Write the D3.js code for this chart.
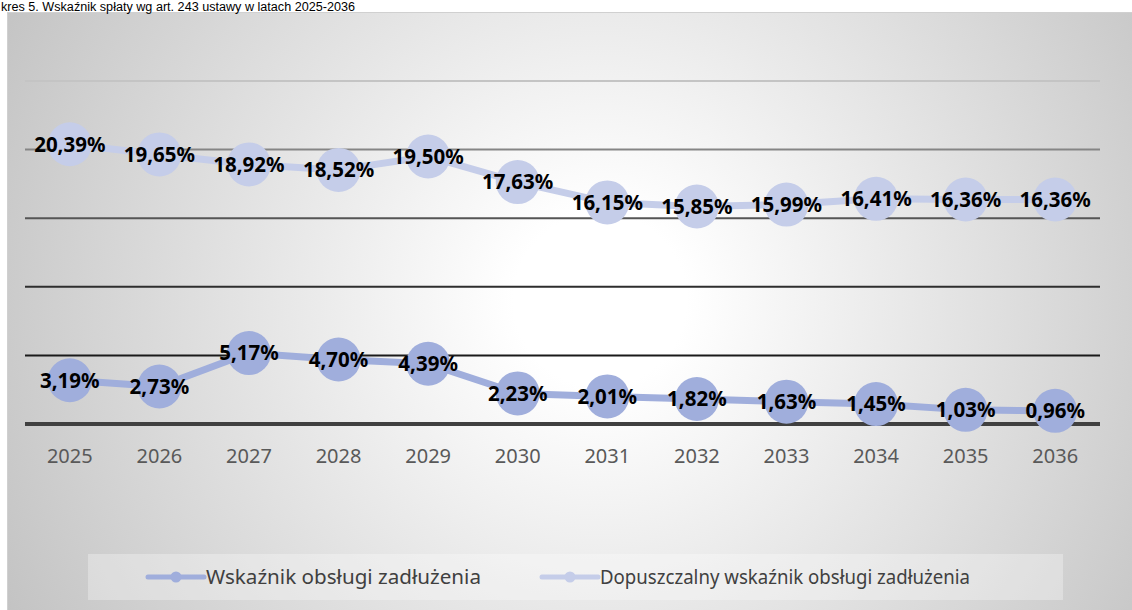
<!DOCTYPE html>
<html>
<head>
<meta charset="utf-8">
<script src="https://cdn.jsdelivr.net/npm/d3@7"></script>
<style>
  body { margin: 0; background: #fff; }
  svg { display: block; }
</style>
</head>
<body>
<svg id="chart" width="1132" height="610"></svg>
<script>
const years = ["2025", "2026", "2027", "2028", "2029", "2030", "2031", "2032", "2033", "2034", "2035", "2036"]
const wskaznik = [3.19, 2.73, 5.17, 4.70, 4.39, 2.23, 2.01, 1.82, 1.63, 1.45, 1.03, 0.96]
const dopuszczalny = [20.39, 19.65, 18.92, 18.52, 19.50, 17.63, 16.15, 15.85, 15.99, 16.41, 16.36, 16.36]
const yTicks = [0, 5, 10, 15, 20, 25]
const seriesNames = ["Wskaźnik obsługi zadłużenia", "Dopuszczalny wskaźnik obsługi zadłużenia"]
const titleText = "kres 5. Wskaźnik spłaty wg art. 243 ustawy w latach 2025-2036"

const svg = d3.select("#chart")
const pl = d3.formatLocale({ decimal: ",", thousands: " ", grouping: [3], currency: ["", " zł"] })
const fmt = pl.format(".2f")

// background gradient
const defs = svg.append("defs")
const grad = defs.append("radialGradient")
    .attr("id", "bg")
    .attr("gradientUnits", "userSpaceOnUse")
    .attr("cx", 600).attr("cy", 300).attr("r", 720)
grad.append("stop").attr("offset", "0%").attr("stop-color", "#ffffff")
grad.append("stop").attr("offset", "12%").attr("stop-color", "#ffffff")
grad.append("stop").attr("offset", "100%").attr("stop-color", "#bebebe")

svg.append("rect")
    .attr("x", 7.5).attr("y", 12.5)
    .attr("width", 1130).attr("height", 610)
    .attr("fill", "url(#bg)")
    .attr("stroke", "#d0d0d0")

svg.append("text")
    .attr("x", 1)
    .attr("y", 11)
    .text(titleText)
    .attr("font-family", "Liberation Sans, sans-serif")
    .attr("font-size", "12px")
    .attr("textLength", 354)
    .attr("lengthAdjust", "spacingAndGlyphs")
    .attr("fill", "#000")

const x = d3.scaleBand().domain(years).range([25, 1100])
const y = d3.scaleLinear().domain([0, 25]).range([424, 81])
const cx = d => x(d) + x.bandwidth() / 2

const gridColors = { 0: "#404040", 5: "#1a1a1a", 10: "#2e2e2e", 15: "#555555", 20: "#858585", 25: "#c4c4c4" }

svg.append("g").selectAll("line")
    .data(yTicks)
    .join("line")
    .attr("x1", 25).attr("x2", 1100)
    .attr("y1", d => y(d)).attr("y2", d => y(d))
    .attr("stroke", d => gridColors[d])
    .attr("stroke-width", d => d === 0 ? 4 : 2)

const xAxis = svg.append("g")
    .attr("transform", "translate(0,424)")
    .call(d3.axisBottom(x).tickSize(0).tickPadding(25))
xAxis.select(".domain").remove()
xAxis.selectAll("text")
    .attr("font-family", "Noto Sans, sans-serif")
    .attr("font-size", "20px")
    .attr("fill", "#595959")

const series = [
    { name: seriesNames[0], values: wskaznik, color: "#a0aedc" },
    { name: seriesNames[1], values: dopuszczalny, color: "#c5cde9" }
]

const line = d3.line().x((d, i) => cx(years[i])).y(d => y(d))

series.forEach(s => {
    svg.append("path")
        .datum(s.values)
        .attr("d", line)
        .attr("fill", "none")
        .attr("stroke", s.color)
        .attr("stroke-width", 7)
        .attr("stroke-linejoin", "round")
    svg.append("g").selectAll("circle")
        .data(s.values)
        .join("circle")
        .attr("cx", (d, i) => cx(years[i]))
        .attr("cy", d => y(d))
        .attr("r", 22)
        .attr("fill", s.color)
})

series.forEach(s => {
    svg.append("g").selectAll("text")
        .data(s.values)
        .join("text")
        .attr("x", (d, i) => cx(years[i]))
        .attr("y", d => y(d))
        .attr("dy", "0.36em")
        .attr("text-anchor", "middle")
        .text(d => fmt(d) + "%")
        .attr("font-family", "Noto Sans, sans-serif")
        .attr("font-weight", "bold")
        .attr("font-size", "20.5px")
        .attr("fill", "#000")
})

// legend
const legend = svg.append("g")
legend.append("rect")
    .attr("x", 88).attr("y", 554)
    .attr("width", 975).attr("height", 46)
    .attr("fill", "#ffffff")
    .attr("fill-opacity", 0.3)

const legendX = [148, 542]
const legendTextLen = [275, 370]
series.forEach((s, i) => {
    const g = legend.append("g").attr("transform", `translate(${legendX[i]},577)`)
    g.append("line")
        .attr("x1", 0).attr("x2", 56)
        .attr("stroke", s.color)
        .attr("stroke-width", 5)
        .attr("stroke-linecap", "round")
    g.append("circle")
        .attr("cx", 28).attr("r", 5.5)
        .attr("fill", s.color)
    g.append("text")
        .attr("x", 58)
        .attr("dy", "0.36em")
        .text(s.name)
        .attr("font-family", "Noto Sans, sans-serif")
        .attr("font-size", "20px")
        .attr("textLength", legendTextLen[i])
        .attr("lengthAdjust", "spacingAndGlyphs")
        .attr("fill", "#404040")
})
</script>
</body>
</html>
